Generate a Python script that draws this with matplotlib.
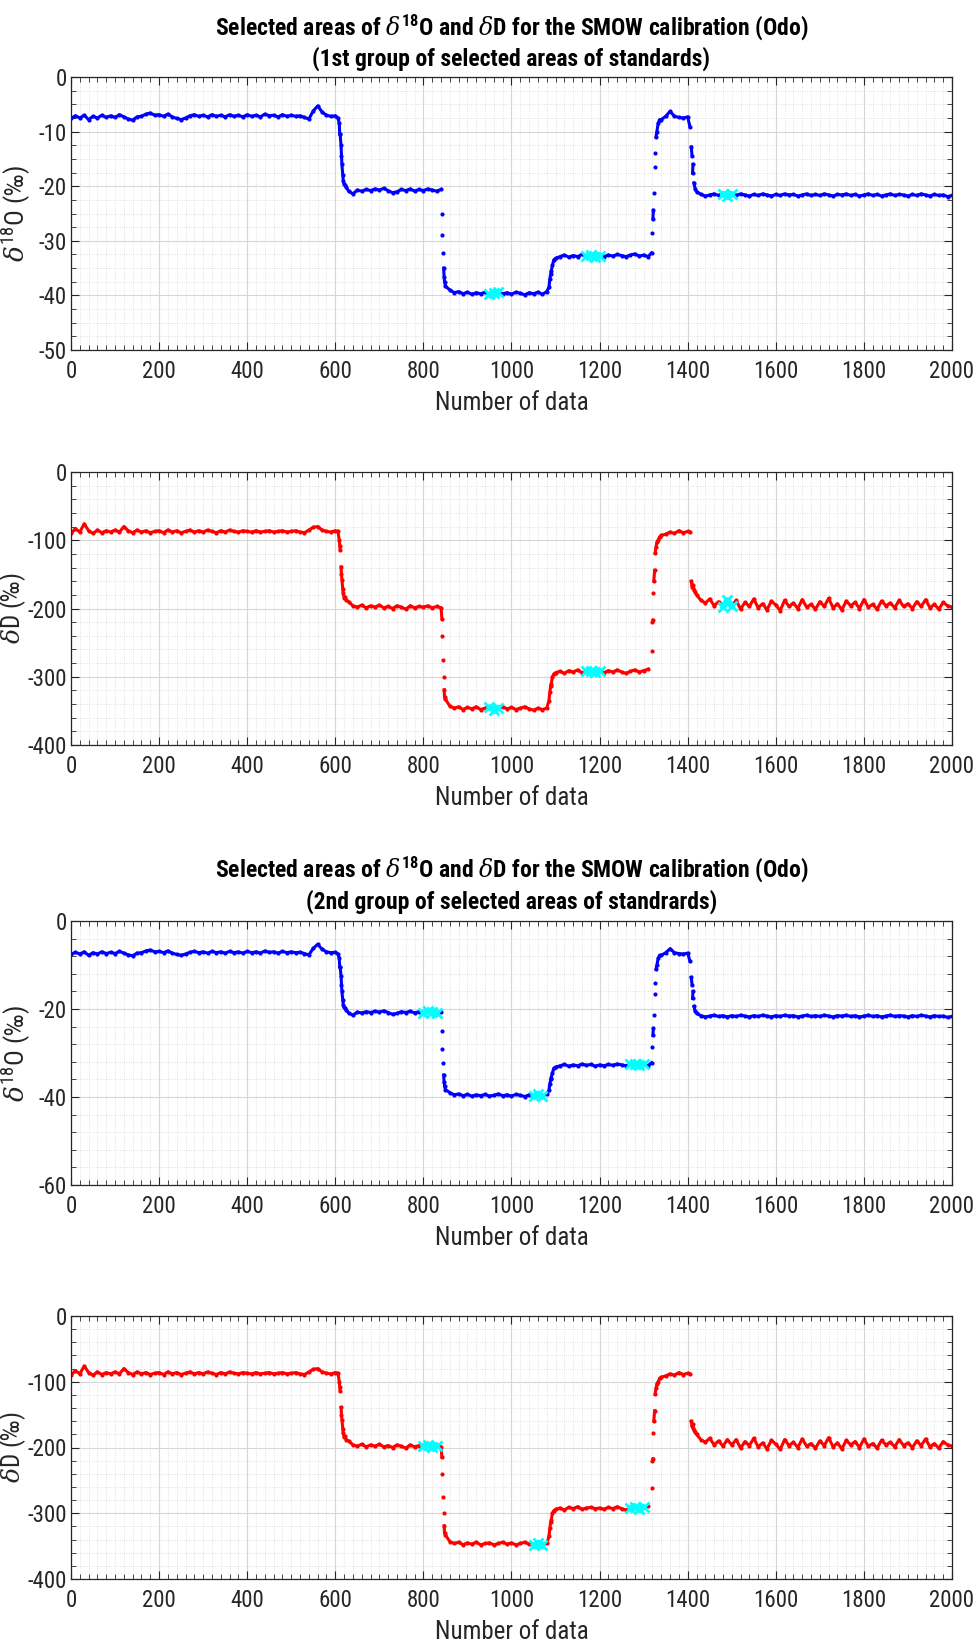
import numpy as np
import matplotlib
matplotlib.use('Agg')
import matplotlib.pyplot as plt
from matplotlib import font_manager as fm
from matplotlib.ticker import MultipleLocator


# ---------- pick the narrowest sans font that is installed ----------
def _stretch_value(s):
    table = {'ultra-condensed': 100, 'extra-condensed': 200, 'condensed': 300,
             'semi-condensed': 400, 'normal': 500}
    if isinstance(s, (int, float)):
        return s
    return table.get(str(s), 500)


def pick_font():
    names = {f.name for f in fm.fontManager.ttflist}
    for p in ['Liberation Sans Narrow', 'DejaVu Sans Condensed', 'Roboto Condensed',
              'Open Sans Condensed', 'Noto Sans Condensed', 'Arial Narrow']:
        if p in names:
            return p, 'normal'
    best = None
    order = ['DejaVu Sans', 'Noto Sans', 'Open Sans', 'Roboto', 'Liberation Sans', 'Lato', 'Inter']
    for f in fm.fontManager.ttflist:
        sv = _stretch_value(f.stretch)
        if sv < 500 and f.name in order:
            key = (order.index(f.name), sv)
            if best is None or key < best[0]:
                best = (key, f.name, f.stretch)
    if best is not None:
        return best[1], best[2]
    return 'Liberation Sans', 'normal'


FONT, STRETCH = pick_font()
IS_NARROW = (FONT != 'Liberation Sans')
SCALE = 1.0 if IS_NARROW else 0.8

plt.rcParams['font.family'] = [FONT, 'DejaVu Sans']
plt.rcParams['font.stretch'] = STRETCH
plt.rcParams['axes.unicode_minus'] = False
plt.rcParams['mathtext.fontset'] = 'custom'
plt.rcParams['mathtext.rm'] = FONT
plt.rcParams['mathtext.sf'] = FONT
plt.rcParams['mathtext.bf'] = FONT + ':bold'
plt.rcParams['mathtext.it'] = 'DejaVu Serif:italic'

# ---------------- data ----------------
# sample index of the regular readings (every 10th data point)
n_index = np.arange(0, 2001, 10)

d18o_values = [
    -7.6, -7.1, -7.5, -7.0, -7.8, -7.2, -7.5, -7.0, -7.4, -7.1,
    -7.4, -6.9, -7.3, -7.7, -7.9, -7.3, -7.2, -6.8, -6.6, -7.0,
    -6.9, -7.2, -6.8, -7.3, -7.6, -7.8, -7.5, -7.1, -6.9, -7.2,
    -7.0, -7.3, -6.9, -7.2, -7.0, -7.3, -6.9, -7.2, -7.0, -7.3,
    -6.9, -7.2, -7.0, -7.3, -6.8, -7.1, -7.0, -7.3, -6.9, -7.2,
    -7.0, -7.2, -7.1, -7.4, -7.7, -6.2, -5.3, -6.4, -7.0, -7.2,
    -7.1, -10.5, -19.6, -20.9, -21.4, -20.7, -20.9, -20.6, -20.8, -20.5,
    -20.7, -20.4, -20.8, -21.2, -21.0, -20.6, -20.8, -20.5, -20.9, -20.6,
    -20.8, -20.5, -20.7, -20.9, -20.6, -38.3, -39.0, -39.5, -39.3, -39.7,
    -39.4, -39.8, -39.5, -39.7, -39.4, -39.8, -39.6, -39.3, -39.7, -39.5,
    -39.8, -39.4, -39.6, -39.9, -39.5, -39.7, -39.4, -39.8, -39.3, -35.6,
    -33.2, -32.9, -32.6, -33.0, -32.7, -32.9, -32.5, -32.8, -32.6, -33.0,
    -32.7, -32.9, -32.6, -32.8, -32.5, -32.7, -32.9, -32.6, -32.4, -32.8,
    -32.6, -32.9, -28.6, -10.0, -7.8, -7.2, -6.3, -7.2, -7.4, -7.5,
    -7.3, -14.5, -21.0, -21.5, -21.8, -21.6, -21.4, -21.7, -21.5, -21.8,
    -21.5, -21.7, -21.4, -21.6, -21.8, -21.5, -21.7, -21.4, -21.6, -21.8,
    -21.5, -21.7, -21.4, -21.6, -21.5, -21.8, -21.6, -21.4, -21.7, -21.5,
    -21.7, -21.4, -21.6, -21.8, -21.5, -21.6, -21.4, -21.7, -21.5, -21.8,
    -21.6, -21.4, -21.7, -21.5, -21.8, -21.6, -21.4, -21.7, -21.5, -21.6,
    -21.8, -21.5, -21.7, -21.4, -21.6, -21.8, -21.5, -21.7, -21.6, -21.9,
    -21.7,
]

dd_values = [
    -90, -83, -88, -76, -86, -90, -85, -89, -86, -88,
    -85, -88, -80, -86, -89, -85, -88, -86, -89, -87,
    -86, -89, -85, -88, -86, -89, -87, -85, -88, -86,
    -88, -85, -87, -89, -86, -88, -85, -87, -88, -86,
    -87, -88, -86, -88, -87, -86, -88, -87, -86, -88,
    -87, -86, -88, -89, -85, -81, -80, -85, -87, -88,
    -86, -108, -184, -190, -196, -198, -195, -199, -196, -198,
    -195, -199, -197, -200, -196, -198, -201, -196, -199, -197,
    -198, -196, -199, -197, -199, -333, -343, -346, -344, -348,
    -345, -347, -344, -348, -346, -345, -348, -346, -344, -347,
    -345, -348, -346, -344, -347, -349, -346, -348, -346, -311,
    -294, -292, -295, -291, -293, -290, -294, -292, -291, -293,
    -292, -294, -291, -293, -290, -293, -295, -292, -290, -293,
    -291, -289, -220, -103, -93, -91, -88, -90, -86, -89,
    -87, -168, -180, -188, -192, -186, -196, -190, -198, -188,
    -196, -188, -201, -191, -197, -186, -199, -193, -202, -189,
    -195, -203, -188, -197, -192, -200, -187, -198, -194, -201,
    -190, -197, -185, -199, -193, -202, -189, -196, -191, -200,
    -187, -198, -194, -201, -189, -196, -192, -199, -188, -197,
    -193, -200, -190, -197, -187, -199, -194, -201, -191, -196,
    -198,
]

# extra readings inside the fast transitions
trans_index = [606, 609, 611, 613, 614, 615, 617, 618, 622, 625,
               842, 843, 844, 846, 847, 848,
               1085, 1087, 1089, 1093, 1096,
               1318, 1321, 1322, 1323, 1325, 1326, 1328, 1333, 1336,
               1405, 1408, 1411, 1412, 1414, 1417]
trans_d18o = [-7.5, -8.5, -10.5, -12.5, -14.5, -16.0, -18.0, -19.0, -19.8, -20.2,
              -25.0, -29.0, -32.3, -35.0, -36.6, -37.5,
              -38.5, -37.0, -36.0, -34.5, -33.5,
              -32.2, -26.0, -24.4, -21.3, -16.5, -14.0, -11.0, -8.5, -7.8,
              -9.1, -12.8, -17.6, -16.0, -19.4, -20.5]
trans_dd = [-87, -100, -114, -139, -150, -158, -172, -178, -183, -188,
            -215, -240, -275, -300, -319, -330,
            -335, -323, -313, -300, -296,
            -262, -217, -178, -160, -144, -119, -110, -100, -95,
            -88, -160, -165, -170, -173, -176]

# selected (cyan) ranges of data indices
selected_group1 = [(945, 975), (1170, 1200), (1477, 1507)]
selected_group2 = [(800, 832), (1045, 1077), (1268, 1300)]

title_line1 = r'Selected areas of $\delta^{\mathbf{18}}$O and $\delta$D for the SMOW calibration (Odo)'
title_group1 = '(1st group of selected areas of standards)'
title_group2 = '(2nd group of selected areas of standrards)'
ylabel_o = r'$\delta^{\mathrm{18}}$O (‰)'
ylabel_d = r'$\delta$D (‰)'
xlabel = 'Number of data'

# ---------------- figure ----------------
W, H = 978, 1645
fig = plt.figure(figsize=(W / 100, H / 100), dpi=100)


def frac_axes(left, top, right, bottom):
    return [left / W, 1 - bottom / H, (right - left) / W, (bottom - top) / H]


DARK = '#262626'

x_all = np.concatenate([n_index, trans_index])
order = np.argsort(x_all, kind='stable')
x_all = x_all[order]
o_arr = np.concatenate([d18o_values, trans_d18o])[order]
d_arr = np.concatenate([dd_values, trans_dd])[order]


def plateau_line(x, y, jump):
    """Insert gaps where consecutive readings jump (transitions stay dotted)."""
    xs, ys = [x[0]], [y[0]]
    for i in range(1, len(x)):
        if abs(y[i] - y[i - 1]) > jump:
            xs.append(np.nan)
            ys.append(np.nan)
        xs.append(x[i])
        ys.append(y[i])
    return np.array(xs, float), np.array(ys, float)


def make_panel(rect, y, color, selected, ylim, major, minor, ylabel, jump,
               label_right, label_size):
    ax = fig.add_axes(rect)
    ax.set_axisbelow(True)
    lx, ly = plateau_line(x_all, y, jump)
    ax.plot(lx, ly, ls='-', lw=2.2, color=color)
    ax.plot(x_all, y, ls='none', marker='o', ms=3.0, mew=0, color=color)
    for (a, b) in selected:
        m = (x_all >= a) & (x_all <= b)
        ax.plot(x_all[m], y[m], ls='-', lw=4.5, color='#00ffff',
                marker='x', ms=6.5, mew=2.0, solid_capstyle='round')
    ax.set_xlim(0, 2000)
    ax.set_ylim(*ylim)
    ax.xaxis.set_major_locator(MultipleLocator(200))
    ax.xaxis.set_minor_locator(MultipleLocator(20))
    ax.yaxis.set_major_locator(MultipleLocator(major))
    ax.yaxis.set_minor_locator(MultipleLocator(minor))
    ax.grid(which='major', color='#d6d6d6', lw=0.8, ls='-')
    ax.grid(which='minor', color='#d9d9d9', lw=0.6, ls=':')
    ax.tick_params(which='both', direction='in', top=True, right=True,
                   colors=DARK, labelcolor=DARK, labelsize=16.5 * SCALE)
    ax.tick_params(which='major', length=6, width=0.8, pad=3)
    ax.tick_params(which='minor', length=3.5, width=0.6)
    ax.tick_params(axis='x', which='major', pad=7)
    for s in ax.spines.values():
        s.set_color(DARK)
        s.set_linewidth(0.9)
    ax.set_xlabel(xlabel, fontsize=18 * SCALE, color=DARK, labelpad=6)
    ax.set_ylabel(ylabel, fontsize=label_size * SCALE, color=DARK)
    ax.yaxis.set_label_coords((label_right - 71) / 881, 0.5)
    return ax


make_panel(frac_axes(71, 77, 952, 350), o_arr, '#0000ff', selected_group1,
           (-50, 0), 10, 2.5, ylabel_o, 2.0, 33, 19)
make_panel(frac_axes(71, 472, 952, 745), d_arr, '#ff0000', selected_group1,
           (-400, 0), 100, 20, ylabel_d, 16, 28, 18)
make_panel(frac_axes(71, 921, 952, 1185), o_arr, '#0000ff', selected_group2,
           (-60, 0), 20, 4, ylabel_o, 2.0, 33, 19)
make_panel(frac_axes(71, 1316, 952, 1579), d_arr, '#ff0000', selected_group2,
           (-400, 0), 100, 20, ylabel_d, 16, 28, 18)

cx = (71 + 952) / 2 / W
for y1, y2, sub in [(35, 66, title_group1), (877, 909, title_group2)]:
    fig.text(cx, 1 - y1 / H, title_line1, ha='center', va='baseline',
             fontsize=17 * SCALE, fontweight='bold', color='black')
    fig.text(cx, 1 - y2 / H, sub, ha='center', va='baseline',
             fontsize=17 * SCALE, fontweight='bold', color='black')

fig.savefig('out.png', dpi=100, facecolor='white')
